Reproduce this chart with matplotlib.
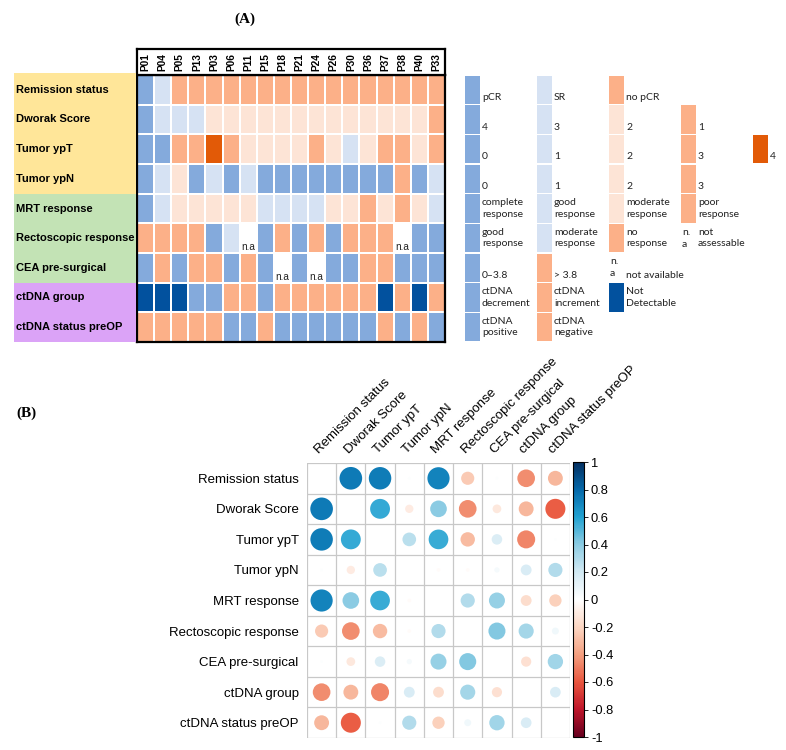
import matplotlib
matplotlib.use('Agg')
import matplotlib.pyplot as plt
import numpy as np
from matplotlib.colors import ListedColormap, LinearSegmentedColormap, Normalize
from matplotlib.patches import Rectangle
from matplotlib.cm import ScalarMappable

W, H = 786, 750

# ---------------- data (A) ----------------
patients = ['P01', 'P04', 'P05', 'P13', 'P03', 'P06', 'P11', 'P15', 'P18',
            'P21', 'P24', 'P26', 'P30', 'P36', 'P37', 'P38', 'P40', 'P33']
variables = ['Remission status', 'Dworak Score', 'Tumor ypT', 'Tumor ypN',
             'MRT response', 'Rectoscopic response', 'CEA pre-surgical',
             'ctDNA group', 'ctDNA status preOP']
var_group = ['path', 'path', 'path', 'path', 'clin', 'clin', 'clin', 'dna', 'dna']

# B=blue, L=light blue, P=pale peach, O=orange, D=dark orange, N=navy, W=n.a
heat_rows = [
    'B L O O O O O O O O O O O O O O O O',
    'B L L L P P P P P P P P P P P P P O',
    'B B O O D O P P P P O P L P O O P O',
    'B L P B L B L B B B B B B B B O B L',
    'B L P P P P P L L L L P P O P O P L',
    'O O O O B L W B O B O B O O O W B B',
    'B O B O O B O B W B W B B O O B B B',
    'N N N B B O O B O O O O O O N O N O',
    'O O O O O B B O B B B B B B O B O B',
]

legend_rows = [
    [('B', 'pCR'), ('L', 'SR'), ('O', 'no pCR')],
    [('B', '4'), ('L', '3'), ('P', '2'), ('O', '1')],
    [('B', '0'), ('L', '1'), ('P', '2'), ('O', '3'), ('D', '4')],
    [('B', '0'), ('L', '1'), ('P', '2'), ('O', '3')],
    [('B', 'complete\nresponse'), ('L', 'good\nresponse'), ('P', 'moderate\nresponse'), ('O', 'poor\nresponse')],
    [('B', 'good\nresponse'), ('L', 'moderate\nresponse'), ('O', 'no\nresponse'), ('na', 'not\nassessable')],
    [('B', '0–3.8'), ('O', '> 3.8'), ('na', 'not available')],
    [('B', 'ctDNA\ndecrement'), ('O', 'ctDNA\nincrement'), ('N', 'Not\nDetectable')],
    [('B', 'ctDNA\npositive'), ('O', 'ctDNA\nnegative')],
]

# ---------------- data (B) ----------------
corr_labels = variables
corr = [
    [1.00, 0.74, 0.73, 0.01, 0.71, -0.25, 0.01, -0.45, -0.32],
    [0.74, 1.00, 0.57, -0.10, 0.40, -0.45, -0.11, -0.32, -0.58],
    [0.73, 0.57, 1.00, 0.27, 0.56, -0.30, 0.16, -0.47, 0.01],
    [0.01, -0.10, 0.27, 1.00, -0.02, -0.02, 0.04, 0.17, 0.29],
    [0.71, 0.40, 0.56, -0.02, 1.00, 0.29, 0.37, -0.17, -0.22],
    [-0.25, -0.45, -0.30, -0.02, 0.29, 1.00, 0.42, 0.33, 0.07],
    [0.01, -0.11, 0.16, 0.04, 0.37, 0.42, 1.00, -0.15, 0.34],
    [-0.45, -0.32, -0.47, 0.17, -0.17, 0.33, -0.15, 1.00, 0.165],
    [-0.32, -0.58, 0.01, 0.29, -0.22, 0.07, 0.34, 0.165, 1.00],
]
cbar_ticks = [-1, -0.8, -0.6, -0.4, -0.2, 0, 0.2, 0.4, 0.6, 0.8, 1]

# ---------------- styles ----------------
color_of = {'B': '#84AADC', 'L': '#D6E2F3', 'P': '#FDE4D6', 'O': '#FCB088',
            'D': '#E25A07', 'N': '#02519E', 'W': '#FFFFFF'}
group_color = {'path': '#FFE699', 'clin': '#C3E3B5', 'dna': '#DBA3F7'}
corr_cmap = LinearSegmentedColormap.from_list('corr', [
    (0.0, '#67001F'), (0.1, '#C0162B'), (0.2, '#E9573F'), (0.3, '#F4A080'),
    (0.4, '#FCD7C4'), (0.5, '#FFFFFF'), (0.6, '#D2E9F3'), (0.7, '#8DCCE3'),
    (0.8, '#23A3D2'), (0.9, '#0569AA'), (1.0, '#053061')])

SANS = 'Liberation Sans'
LEG = 'Lato'

fig = plt.figure(figsize=(W / 100, H / 100), dpi=100)


def px_axes(x0, y0, x1, y1):
    return fig.add_axes([x0 / W, 1 - y1 / H, (x1 - x0) / W, (y1 - y0) / H])


# ---------- (A) heatmap ----------
keys = list(color_of)
cells = [r.split() for r in heat_rows]
codes = np.array([[keys.index(c) for c in r] for r in cells])
hcmap = ListedColormap([color_of[k] for k in keys])
nrow, ncol = codes.shape

ax = px_axes(137, 75, 445, 342)
ax.pcolormesh(codes, cmap=hcmap, vmin=-0.5, vmax=len(keys) - 0.5,
              edgecolors='white', linewidth=1.2)
ax.set_xlim(0, ncol)
ax.set_ylim(nrow, 0)
ax.set_xticks([])
ax.set_yticks([])
for s in ax.spines.values():
    s.set_linewidth(1.6)
    s.set_color('black')
for i, r in enumerate(cells):
    for j, c in enumerate(r):
        if c == 'W':
            ax.text(j + 0.5, i + 0.8, 'n.a', ha='center', va='center',
                    fontsize=7.2, family=SANS, color='#222222')

# header with patient ids
hx = px_axes(137, 49, 445, 75)
hx.set_xlim(0, ncol)
hx.set_ylim(0, 1)
hx.set_xticks([])
hx.set_yticks([])
for s in hx.spines.values():
    s.set_linewidth(1.6)
    s.set_color('black')
for j, p in enumerate(patients):
    hx.text(j + 0.5, 0.5, p, rotation=90, ha='center', va='center',
            fontsize=7.3, fontweight='bold', family=SANS)

# left labels with group colours
lx = px_axes(14, 75, 136, 342)
lx.set_xlim(0, 1)
lx.set_ylim(nrow, 0)
lx.axis('off')
for i, (v, g) in enumerate(zip(variables, var_group)):
    lx.axhspan(i, i + 1, color=group_color[g], lw=0)
    lx.text(0.02, i + 0.5, v, ha='left', va='center', fontsize=8,
            fontweight='bold', family=SANS)
lx.axhspan(-0.08, 0, color=group_color[var_group[0]], lw=0, clip_on=False)

# legend
gx = px_axes(455, 75, 786, 342)
gx.set_xlim(455, 786)
gx.set_ylim(nrow, 0)
gx.axis('off')
for i, row in enumerate(legend_rows):
    for k, (key, lab) in enumerate(row):
        sx = 465 + 72 * k
        if key == 'na':
            gx.text(sx + 1, i + 0.5, 'n.\na', ha='left', va='center',
                    fontsize=7.5, family=LEG, color='#222222', linespacing=1.45)
        else:
            gx.add_patch(Rectangle((sx, i + 0.02), 15, 0.96,
                                   facecolor=color_of[key], edgecolor='none'))
        two = '\n' in lab
        gx.text(sx + 17, i + (0.5 if two else 0.76), lab, ha='left',
                va='center', fontsize=7.5, family=LEG, color='#222222',
                linespacing=1.3)

fig.text(245 / W, 1 - 19 / H, '(A)', ha='center', va='center', fontsize=11,
         fontweight='bold', family='Liberation Serif')
fig.text(26 / W, 1 - 413 / H, '(B)', ha='center', va='center', fontsize=11,
         fontweight='bold', family='Liberation Serif')

# ---------- (B) correlation plot ----------
cm = np.array(corr)
n = len(corr_labels)
cx = px_axes(307, 463, 570, 738)
cx.set_xlim(0, n)
cx.set_ylim(n, 0)
for s in cx.spines.values():
    s.set_visible(False)
for k in range(n + 1):
    cx.axhline(k, color='#C8C8C8', lw=0.9, zorder=1)
    cx.axvline(k, color='#C8C8C8', lw=0.9, zorder=1)
cell_px = min(263 / n, 275 / n)
xs, ys, ss, cs = [], [], [], []
for i in range(n):
    for j in range(n):
        if i == j:
            continue
        r = cm[i, j]
        d_pt = 0.9 * np.sqrt(abs(r)) * cell_px * 72 / 100
        xs.append(j + 0.5)
        ys.append(i + 0.5)
        ss.append(d_pt ** 2)
        cs.append(corr_cmap((r + 1) / 2))
cx.scatter(xs, ys, s=ss, c=cs, linewidths=0, zorder=3)
cx.set_xticks([])
cx.set_yticks(np.arange(n) + 0.5)
cx.set_yticklabels(corr_labels, fontsize=9.5, family=SANS)
cx.tick_params(axis='y', length=0, pad=6)
for j, lab in enumerate(corr_labels):
    cx.text(j + 0.5, -0.22, lab, rotation=45, ha='left', va='bottom',
            rotation_mode='anchor', fontsize=9.5, family=SANS)

cax = px_axes(573, 462, 584, 737)
cb = fig.colorbar(ScalarMappable(norm=Normalize(-1, 1), cmap=corr_cmap),
                  cax=cax, ticks=cbar_ticks)
cb.ax.set_yticklabels([f'{t:g}' for t in cbar_ticks], family=SANS)
cb.ax.tick_params(labelsize=9.3, length=3, width=0.6, pad=2)
cb.outline.set_linewidth(0.8)

fig.savefig('out.png', dpi=100, facecolor='white')
